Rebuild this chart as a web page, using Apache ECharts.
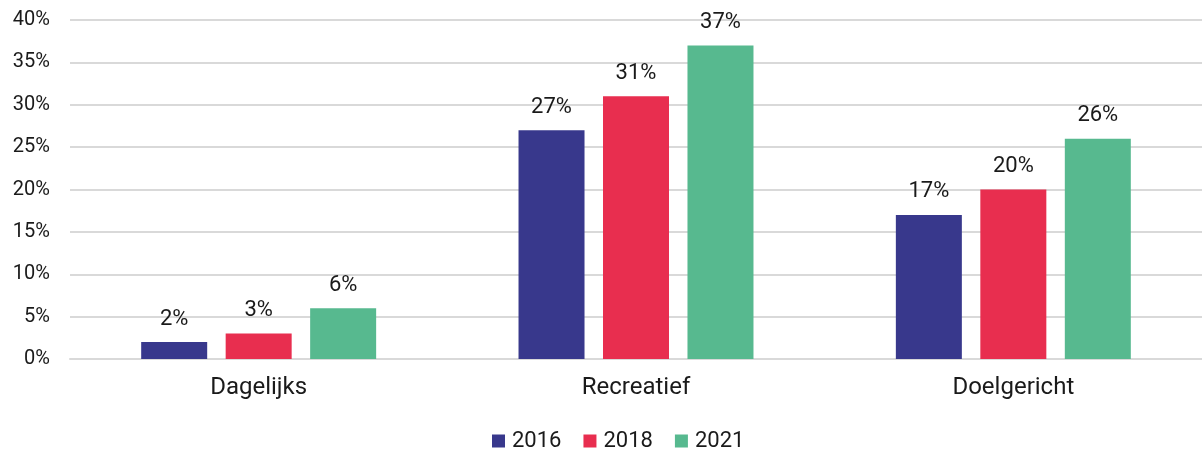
<!DOCTYPE html>
<html>
<head>
<meta charset="utf-8">
<script src="https://cdn.jsdelivr.net/npm/echarts@6/dist/echarts.min.js"></script>
<style>
  html, body { margin: 0; padding: 0; background: #fff; }
  #chart { width: 1202px; height: 454px; }
</style>
</head>
<body>
<div id="chart"></div>
<script>
  // categorieën en waarden (in %)
  var categories = ['Dagelijks', 'Recreatief', 'Doelgericht']
  var years = ['2016', '2018', '2021']
  var values2016 = [2, 27, 17]
  var values2018 = [3, 31, 20]
  var values2021 = [6, 37, 26]
  var colors = ['#38388c', '#e82e4f', '#57b98f']

  var font = 'Roboto'
  var chart = echarts.init(document.getElementById('chart'))

  function makeSeries (name, data, color) {
    return {
      name: name,
      type: 'bar',
      data: data,
      barWidth: 66,
      barGap: '28%',
      itemStyle: { color: color },
      label: {
        show: true,
        position: 'top',
        distance: 12,
        formatter: '{c}%',
        color: '#1a1a1a',
        fontFamily: font,
        fontSize: 22
      }
    }
  }

  var option = {
    animation: false,
    color: colors,
    grid: { left: 70, right: -5, top: 20, bottom: 95 },
    legend: {
      top: 430,
      left: 492,
      padding: 0,
      itemWidth: 13,
      itemHeight: 13,
      itemGap: 22,
      icon: 'rect',
      textStyle: { color: '#1a1a1a', fontFamily: font, fontSize: 22, padding: [0, 0, 0, 2] },
      data: years
    },
    xAxis: {
      type: 'category',
      data: categories,
      axisLine: { lineStyle: { color: '#d9d9d9', width: 2 } },
      axisTick: { show: false },
      axisLabel: { color: '#1a1a1a', fontFamily: font, fontSize: 24, margin: 17 }
    },
    yAxis: {
      type: 'value',
      min: 0,
      max: 40,
      interval: 5,
      axisLine: { show: false },
      axisTick: { show: false },
      splitLine: { lineStyle: { color: '#d9d9d9', width: 2 } },
      axisLabel: {
        formatter: '{value}%',
        color: '#1a1a1a',
        fontFamily: font,
        fontSize: 20,
        margin: 20
      }
    },
    series: [
      makeSeries(years[0], values2016, colors[0]),
      makeSeries(years[1], values2018, colors[1]),
      makeSeries(years[2], values2021, colors[2])
    ]
  }
  chart.setOption(option)
</script>
</body>
</html>
